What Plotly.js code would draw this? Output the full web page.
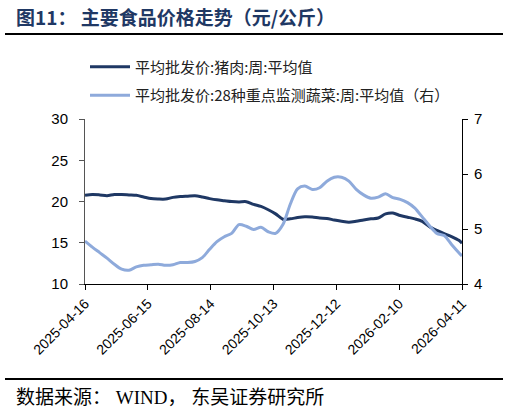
<!DOCTYPE html>
<html>
<head>
<meta charset="utf-8">
<script src="https://cdn.plot.ly/plotly-3.0.1.min.js"></script>
<style>
html,body{margin:0;padding:0;background:#fff;}
#chart{width:509px;height:413px;}
</style>
</head>
<body>
<div id="chart"></div>
<script>
const dates = [
 '2025-04-16','2025-04-23','2025-04-30','2025-05-07','2025-05-14','2025-05-21','2025-05-28',
 '2025-06-04','2025-06-11','2025-06-18','2025-06-25','2025-07-02','2025-07-09','2025-07-16',
 '2025-07-23','2025-07-30','2025-08-06','2025-08-13','2025-08-20','2025-08-27','2025-09-03',
 '2025-09-10','2025-09-17','2025-09-24','2025-10-01','2025-10-08','2025-10-15','2025-10-22',
 '2025-10-29','2025-11-05','2025-11-12','2025-11-19','2025-11-26','2025-12-03','2025-12-10',
 '2025-12-17','2025-12-24','2025-12-31','2026-01-07','2026-01-14','2026-01-21','2026-01-28',
 '2026-02-04','2026-02-11','2026-02-18','2026-02-25','2026-03-04','2026-03-11','2026-03-18',
 '2026-03-25','2026-04-01','2026-04-08','2026-04-11'
];
const porkPrice = [
 20.75,20.85,20.8,20.7,20.85,20.85,20.8,
 20.75,20.55,20.35,20.3,20.3,20.5,20.6,
 20.65,20.7,20.55,20.35,20.2,20.1,20.0,
 19.95,19.98,19.65,19.4,19.0,18.5,17.85,
 17.9,18.05,18.15,18.12,18.0,17.95,17.75,
 17.6,17.48,17.6,17.76,17.9,18.0,18.5,
 18.6,18.3,18.1,17.9,17.6,16.95,16.5,
 16.1,15.75,15.3,14.95
];
const vegPrice = [
 4.78,4.67,4.57,4.47,4.36,4.27,4.25,
 4.31,4.34,4.35,4.36,4.34,4.35,4.39,
 4.39,4.41,4.48,4.63,4.77,4.86,4.92,
 5.08,5.05,4.99,5.03,4.95,4.92,5.08,
 5.45,5.73,5.78,5.72,5.75,5.87,5.94,
 5.94,5.87,5.72,5.62,5.56,5.58,5.64,
 5.57,5.54,5.48,5.38,5.22,5.06,4.92,
 4.88,4.72,4.57,4.51
];
const xTicks = ['2025-04-16','2025-06-15','2025-08-14','2025-10-13','2025-12-12','2026-02-10','2026-04-11'];
const seriesNames = ['平均批发价:猪肉:周:平均值','平均批发价:28种重点监测蔬菜:周:平均值（右）'];

const cjk = '"Noto Sans CJK SC", sans-serif';
const serif = '"Liberation Serif", "Noto Sans CJK SC", serif';
const arial = '"Liberation Sans", Arial, sans-serif';

const traces = [
 {x: dates, y: porkPrice, name: seriesNames[0], type: 'scatter', mode: 'lines',
  line: {color: '#1F3864', width: 3, shape: 'spline', smoothing: 0.8}, legendgroup: 'a', yaxis: 'y'},
 {x: dates, y: vegPrice, name: seriesNames[1], type: 'scatter', mode: 'lines',
  line: {color: '#8EAADB', width: 3, shape: 'spline', smoothing: 0.8}, legendgroup: 'b', yaxis: 'y2'}
];

const layout = {
 width: 509, height: 413,
 margin: {l: 85, r: 47, t: 119, b: 129},
 paper_bgcolor: '#fff', plot_bgcolor: '#fff',
 showlegend: true,
 legend: {x: 0.0, xanchor: 'left', y: 1.415, yanchor: 'top', traceorder: 'grouped', tracegroupgap: 6,
   itemwidth: 40,
   font: {family: cjk, size: 15, color: '#222'}, bgcolor: 'rgba(0,0,0,0)'},
 xaxis: {type: 'date', range: ['2025-04-16', '2026-04-11'], tickvals: xTicks, ticktext: xTicks,
   tickangle: -45, ticks: 'outside', ticklen: 5, tickcolor: '#000', showline: true, linecolor: '#000', linewidth: 1,
   showgrid: false, zeroline: false, tickfont: {family: arial, size: 14, color: '#000'}},
 yaxis: {range: [10, 30], dtick: 5, ticks: 'outside', ticklen: 5, tickcolor: '#555', showline: true, linecolor: '#555',
   showgrid: false, zeroline: false, tickfont: {family: arial, size: 15, color: '#000'}, ticklabelstandoff: 8},
 yaxis2: {range: [4, 7], dtick: 1, overlaying: 'y', side: 'right', ticks: 'outside', ticklen: 5, tickcolor: '#000',
   showline: true, linecolor: '#000', showgrid: false, zeroline: false,
   tickfont: {family: arial, size: 15, color: '#000'}, ticklabelstandoff: 3},
 annotations: [
   {xref: 'paper', yref: 'paper', x: 0, y: 1.0, xanchor: 'left', yanchor: 'middle', showarrow: false,
    text: '<b>图11： 主要食品价格走势（元/公斤）</b>', font: {family: cjk, size: 19, color: '#1F3864'}},
   {xref: 'paper', yref: 'paper', x: 0, y: 0, xanchor: 'left', yanchor: 'middle', showarrow: false,
    text: '数据来源： WIND， 东吴证券研究所', font: {family: serif, size: 19, color: '#000'}}
 ],
 shapes: [
   {type: 'line', xref: 'paper', yref: 'paper', x0: 0, x1: 1, y0: 1, y1: 1, line: {color: '#000', width: 2}},
   {type: 'line', xref: 'paper', yref: 'paper', x0: 0, x1: 1, y0: 0, y1: 0, line: {color: '#000', width: 2}}
 ]
};

// convert pixel positions for title/source/rules
const pl = 85, pw = 377, pt = 119, ph = 165;
function px2x(px){ return (px - pl) / pw; }
function py2y(py){ return 1 - (py - pt) / ph; }
layout.annotations[0].x = px2x(14); layout.annotations[0].y = py2y(16);
layout.annotations[1].x = px2x(14); layout.annotations[1].y = py2y(397);
layout.shapes[0].x0 = px2x(5); layout.shapes[0].x1 = px2x(503); layout.shapes[0].y0 = layout.shapes[0].y1 = py2y(34);
layout.shapes[1].x0 = px2x(5); layout.shapes[1].x1 = px2x(503); layout.shapes[1].y0 = layout.shapes[1].y1 = py2y(379);

Plotly.newPlot('chart', traces, layout, {displayModeBar: false, staticPlot: true});
</script>
</body>
</html>
